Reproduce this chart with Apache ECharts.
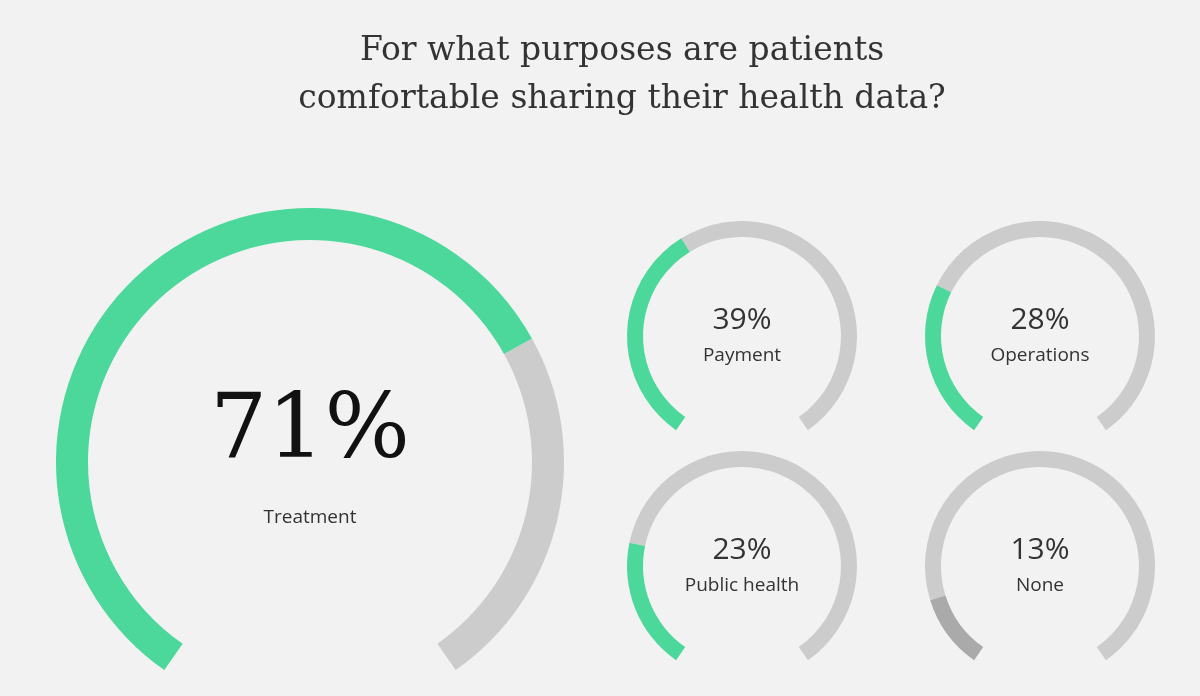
<!DOCTYPE html>
<html><head><meta charset="utf-8">
<script src="https://cdn.jsdelivr.net/npm/echarts@6/dist/echarts.min.js"></script>
<style>html,body{margin:0;background:#f2f2f2}#c{width:1200px;height:696px}</style>
</head><body><div id="c"></div>
<script>
var names = ['Treatment', 'Payment', 'Operations', 'Public health', 'None'];
var values = [71, 39, 28, 23, 13];
var fillColors = ['#4cd89a', '#4cd89a', '#4cd89a', '#4cd89a', '#aaaaaa'];
var centers = [[310, 462], [742, 336], [1040, 336], [742, 566], [1040, 566]];
var radii = [254, 115, 115, 115, 115];
var widths = [32, 16, 16, 16, 16];

var chart = echarts.init(document.getElementById('c'));
var series = names.map(function (n, i) {
    var big = i === 0;
    return {
        type: 'gauge',
        center: centers[i],
        radius: radii[i],
        startAngle: 235,
        endAngle: -55,
        min: 0, max: 100,
        pointer: {show: false},
        axisTick: {show: false},
        splitLine: {show: false},
        axisLabel: {show: false},
        axisLine: {lineStyle: {width: widths[i], color: [[values[i] / 100, fillColors[i]], [1, '#cccccc']]}},
        title: {
            offsetCenter: [0, big ? 56 : 20],
            fontSize: 19,
            color: '#333',
            fontFamily: 'Open Sans'
        },
        detail: {
            offsetCenter: [0, big ? -28 : -16],
            formatter: '{value}%',
            fontSize: big ? 90 : 30,
            fontWeight: 'normal',
            color: big ? '#111' : '#333',
            fontFamily: big ? 'DejaVu Serif' : 'Open Sans'
        },
        data: [{value: values[i], name: n}]
    };
});

chart.setOption({
    backgroundColor: '#f2f2f2',
    title: {
        text: 'For what purposes are patients\ncomfortable sharing their health data?',
        left: 617, top: 22, textAlign: 'center',
        textStyle: {fontFamily: 'DejaVu Serif', fontWeight: 'normal', fontSize: 33, lineHeight: 48, color: '#333'}
    },
    series: series
});
</script></body></html>
